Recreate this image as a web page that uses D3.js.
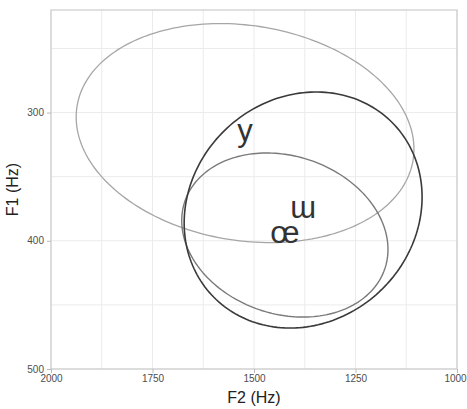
<!DOCTYPE html>
<html>
<head>
<meta charset="utf-8">
<script src="https://cdn.jsdelivr.net/npm/d3@7"></script>
<style>
  html, body { margin: 0; padding: 0; background: #fff; }
  svg { display: block; }
  text { font-family: "Liberation Sans", Arial, sans-serif; }
</style>
</head>
<body>
<div id="chart"></div>
<script>
// ---- data ----
const vowels = ["y", "ɯ", "œ"];
const centerF2 = [1522, 1379, 1424];      // ellipse centres, F2 (Hz)
const centerF1 = [316, 376, 395.5];       // ellipse centres, F1 (Hz)
const axisAF2 = [-416, -293, -254];       // first semi-diameter, F2 component (Hz)
const axisAF1 = [12.5, -10.1, 11.2];      // first semi-diameter, F1 component (Hz)
const axisBF2 = [0, 0, 0];                // conjugate semi-diameter, F2 component (Hz)
const axisBF1 = [84.5, 91.5, 63];         // conjugate semi-diameter, F1 component (Hz)
const f2Ticks = [2000, 1750, 1500, 1250, 1000];
const f1Ticks = [300, 400, 500];
const f2Grid = [2000, 1875, 1750, 1625, 1500, 1375, 1250, 1125, 1000];
const f1Grid = [250, 300, 350, 400, 450, 500];
const f2Domain = [2000, 1000];
const f1Domain = [220, 500];

// ---- layout ----
const W = 467, H = 409;
const m = { left: 51, top: 10, right: 10, bottom: 40 };
const pw = W - m.left - m.right, ph = H - m.top - m.bottom;

const svg = d3.select("#chart").append("svg").attr("width", W).attr("height", H);
const g = svg.append("g").attr("transform", `translate(${m.left},${m.top})`);

const x = d3.scaleLinear().domain(f2Domain).range([0, pw]);
const y = d3.scaleLinear().domain(f1Domain).range([0, ph]);

// grid
g.append("g").selectAll("line").data(f2Grid).join("line")
  .attr("x1", d => x(d)).attr("x2", d => x(d)).attr("y1", 0).attr("y2", ph)
  .attr("stroke", "#ebebeb").attr("stroke-width", 1);
g.append("g").selectAll("line").data(f1Grid).join("line")
  .attr("y1", d => y(d)).attr("y2", d => y(d)).attr("x1", 0).attr("x2", pw)
  .attr("stroke", "#ebebeb").attr("stroke-width", 1);

// panel border
g.append("rect").attr("x", 0).attr("y", 0).attr("width", pw).attr("height", ph)
  .attr("fill", "none").attr("stroke", "#cccccc").attr("stroke-width", 1.2);

// axes
const fmt = d3.format("d");
const xAxis = g.append("g").attr("transform", `translate(0,${ph})`)
  .call(d3.axisBottom(x).tickValues(f2Ticks).tickFormat(fmt).tickSize(4).tickPadding(2));
const yAxis = g.append("g")
  .call(d3.axisLeft(y).tickValues(f1Ticks).tickFormat(fmt).tickSize(4).tickPadding(3));
[xAxis, yAxis].forEach(a => {
  a.select(".domain").remove();
  a.selectAll(".tick line").attr("stroke", "#bbbbbb");
  a.selectAll(".tick text").attr("fill", "#4d4d4d")
    .style("font-size", "10px").style("font-family", "'Liberation Sans', Arial, sans-serif");
});
xAxis.selectAll(".tick text").filter(d => d === 1000).attr("dx", "-2");

// axis titles
svg.append("text").attr("x", m.left + pw / 2).attr("y", 403)
  .attr("text-anchor", "middle").attr("fill", "#222").style("font-size", "16px").text("F2 (Hz)");
svg.append("text").attr("transform", `translate(18,${m.top + ph / 2}) rotate(-90)`)
  .attr("text-anchor", "middle").attr("fill", "#222").style("font-size", "16px").text("F1 (Hz)");

// ellipses
const strokes = ["#a6a6a6", "#3a3a3a", "#7a7a7a"];
const widths = [1.3, 1.6, 1.4];
const N = 200;
const line = d3.line().x(p => x(p[0])).y(p => y(p[1])).curve(d3.curveLinearClosed);
const order = [0, 2, 1];
order.forEach(i => {
  const pts = d3.range(N).map(k => {
    const t = 2 * Math.PI * k / N;
    return [centerF2[i] + axisAF2[i] * Math.cos(t) + axisBF2[i] * Math.sin(t),
            centerF1[i] + axisAF1[i] * Math.cos(t) + axisBF1[i] * Math.sin(t)];
  });
  g.append("path").attr("d", line(pts)).attr("fill", "none")
    .attr("stroke", strokes[i]).attr("stroke-width", widths[i]);
});

// labels at centres
g.append("g").selectAll("text").data(vowels).join("text")
  .attr("x", (d, i) => x(centerF2[i])).attr("y", (d, i) => y(centerF1[i]))
  .attr("dy", "0.25em").attr("text-anchor", "middle")
  .attr("fill", "#333").style("font-size", "31px").text(d => d);
</script>
</body>
</html>
